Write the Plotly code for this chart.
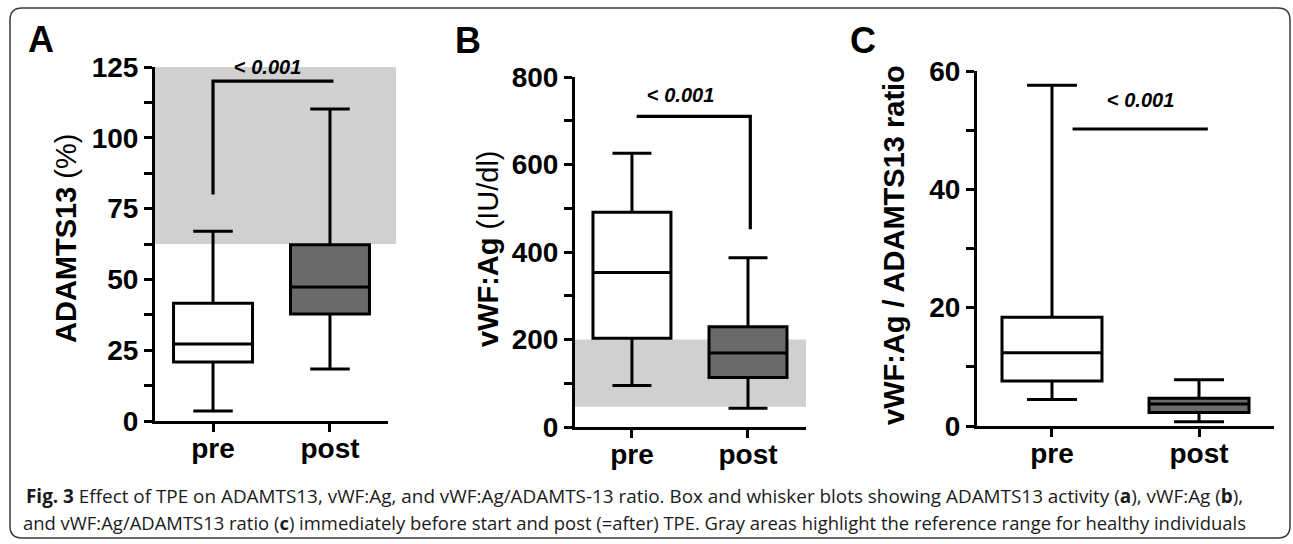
import plotly.graph_objects as go

# ---------------- data ----------------
groups = ["pre", "post"]
group_pos = [0, 1]

# Panel A: ADAMTS13 (%)
a_low = [3.5, 18.4]
a_q1 = [20.8, 37.8]
a_median = [27.2, 47.3]
a_q3 = [41.6, 62.2]
a_high = [67.0, 110.2]
a_ref_range = [62.5, 125]
a_sig_x = [0, 0, 1.03]
a_sig_y = [80, 120, 120]

# Panel B: vWF:Ag (IU/dl)
b_low = [95, 43]
b_q1 = [203, 113]
b_median = [353, 169]
b_q3 = [491, 229]
b_high = [626, 387]
b_ref_range = [46, 200]
b_sig_x = [0.04, 1.02, 1.02]
b_sig_y = [710, 710, 452]

# Panel C: vWF:Ag / ADAMTS13 ratio
c_low = [4.5, 0.7]
c_q1 = [7.6, 2.3]
c_median = [12.4, 3.7]
c_q3 = [18.4, 4.7]
c_high = [57.6, 7.8]
c_sig_x = [0.14, 1.06]
c_sig_y = [50.2, 50.2]

p_text = "&lt; <i>0.001</i>"
fills = ["white", "#6a6a6a"]

W, H = 1293, 544
FONT = "Liberation Sans, Arial, sans-serif"

fig = go.Figure()

panels = [
    ("x", "y", a_low, a_q1, a_median, a_q3, a_high, a_sig_x, a_sig_y),
    ("x2", "y2", b_low, b_q1, b_median, b_q3, b_high, b_sig_x, b_sig_y),
    ("x3", "y3", c_low, c_q1, c_median, c_q3, c_high, c_sig_x, c_sig_y),
]
box_widths = [0.675, 0.672, 0.68]

for (xa, ya, lo, q1, med, q3, hi, sx, sy), bw in zip(panels, box_widths):
    for i in range(2):
        fig.add_trace(go.Box(
            x=[group_pos[i]], q1=[q1[i]], median=[med[i]], q3=[q3[i]],
            lowerfence=[lo[i]], upperfence=[hi[i]],
            width=bw, whiskerwidth=0.5, boxpoints=False,
            fillcolor=fills[i], line=dict(color="black", width=3),
            xaxis=xa, yaxis=ya, showlegend=False, hoverinfo="skip",
        ))
    fig.add_trace(go.Scatter(
        x=sx, y=sy, mode="lines", line=dict(color="black", width=3.2),
        xaxis=xa, yaxis=ya, showlegend=False, hoverinfo="skip", cliponaxis=False,
    ))

def xaxis(dom, rng):
    return dict(domain=dom, range=rng, showline=True, linewidth=3, linecolor="black",
                ticks="outside", ticklen=8, tickwidth=3, tickcolor="black",
                tickvals=group_pos, ticktext=groups, showgrid=False, zeroline=False,
                automargin=False, ticklabelstandoff=-8,
                tickfont=dict(family=FONT, size=28, color="black", weight="bold"),
                fixedrange=True)

def yaxis(dom, rng, dtick, anchor):
    return dict(domain=dom, range=rng, anchor=anchor, showline=True, linewidth=3,
                linecolor="black", ticks="outside", ticklen=8, tickwidth=3,
                tickcolor="black", dtick=dtick, showgrid=False, zeroline=False,
                automargin=False,
                minor=dict(ticks="outside", ticklen=8, tickwidth=3, tickcolor="black",
                           dtick=dtick / 2, showgrid=False),
                tickfont=dict(family=FONT, size=28, color="black", weight="bold"),
                fixedrange=True)

def px(v):
    return v / W

def py(v):
    return 1 - v / H

fig.update_layout(
    width=W, height=H, autosize=False,
    margin=dict(l=0, r=0, t=0, b=0, pad=0, autoexpand=False),
    paper_bgcolor="white", plot_bgcolor="rgba(0,0,0,0)",
    xaxis=xaxis([px(155), px(388)], [-0.496, 1.496]) | dict(anchor="y"),
    yaxis=yaxis([py(421), py(67)], [0, 125], 25, "x"),
    xaxis2=xaxis([px(575), px(806)], [-0.491, 1.5]) | dict(anchor="y2"),
    yaxis2=yaxis([py(427), py(77)], [0, 800], 200, "x2"),
    xaxis3=xaxis([px(977), px(1274)], [-0.51, 1.51]) | dict(anchor="y3"),
    yaxis3=yaxis([py(426), py(71)], [0, 60], 20, "x3"),
)

shapes = [
    dict(type="rect", xref="x domain", yref="y", x0=0, x1=1.034,
         y0=a_ref_range[0], y1=a_ref_range[1], fillcolor="#d0d0d0",
         line=dict(width=0), layer="below"),
    dict(type="rect", xref="x2 domain", yref="y2", x0=0, x1=1.0,
         y0=b_ref_range[0], y1=b_ref_range[1], fillcolor="#d0d0d0",
         line=dict(width=0), layer="below"),
]
# rounded frame
x0, x1, y0, y1, r = 10, 1290, 8, 538, 12
path = (f"M {px(x0+r)},{py(y0)} L {px(x1-r)},{py(y0)} Q {px(x1)},{py(y0)} {px(x1)},{py(y0+r)} "
        f"L {px(x1)},{py(y1-r)} Q {px(x1)},{py(y1)} {px(x1-r)},{py(y1)} "
        f"L {px(x0+r)},{py(y1)} Q {px(x0)},{py(y1)} {px(x0)},{py(y1-r)} "
        f"L {px(x0)},{py(y0+r)} Q {px(x0)},{py(y0)} {px(x0+r)},{py(y0)} Z")
shapes.append(dict(type="path", xref="paper", yref="paper", path=path,
                   line=dict(color="#3a3a3a", width=1.5), layer="above"))
fig.update_layout(shapes=shapes)

ann = []
# p-values
for xa, ya, xv, yv in [("x", "y", 0.47, 125), ("x2", "y2", 0.42, 760), ("x3", "y3", 0.605, 55.1)]:
    ann.append(dict(xref=xa, yref=ya, x=xv, y=yv, text=f"<b>{p_text}</b>", showarrow=False,
                    xanchor="center", yanchor="middle",
                    font=dict(family=FONT, size=20, color="black")))
# panel letters
for letter, xv, yv in [("A", 41, 40), ("B", 468, 41), ("C", 863, 41)]:
    ann.append(dict(xref="paper", yref="paper", x=px(xv), y=py(yv), text=f"<b>{letter}</b>",
                    showarrow=False, xanchor="center", yanchor="middle",
                    font=dict(family=FONT, size=36, color="black")))
# y titles
for txt, xv, yv in [("<b>ADAMTS13</b> (%)", 66, 239), ("<b>vWF:Ag</b> (IU/dl)", 488, 249),
                    ("<b>vWF:Ag / ADAMTS13 ratio</b>", 894, 245)]:
    ann.append(dict(xref="paper", yref="paper", x=px(xv), y=py(yv), text=txt, textangle=-90,
                    showarrow=False, xanchor="center", yanchor="middle",
                    font=dict(family=FONT, size=29, color="black")))
# caption
cap1 = ("<b>Fig. 3</b> Effect of TPE on ADAMTS13, vWF:Ag, and vWF:Ag/ADAMTS-13 ratio. "
        "Box and whisker blots showing ADAMTS13 activity (<b>a</b>), vWF:Ag (<b>b</b>),")
cap2 = ("and vWF:Ag/ADAMTS13 ratio (<b>c</b>) immediately before start and post (=after) TPE. "
        "Gray areas highlight the reference range for healthy individuals")
for txt, xv, yv, fs in [(cap1, 24, 496, 18.9), (cap2, 21, 522.5, 18.45)]:
    ann.append(dict(xref="paper", yref="paper", x=px(xv), y=py(yv), text=txt,
                    showarrow=False, xanchor="left", yanchor="middle",
                    font=dict(family="Open Sans, sans-serif", size=fs, color="#1a1a1a")))
fig.update_layout(annotations=ann)

fig.write_html("out.html", config={"displayModeBar": False},
               post_script="document.body.style.margin='0';")
